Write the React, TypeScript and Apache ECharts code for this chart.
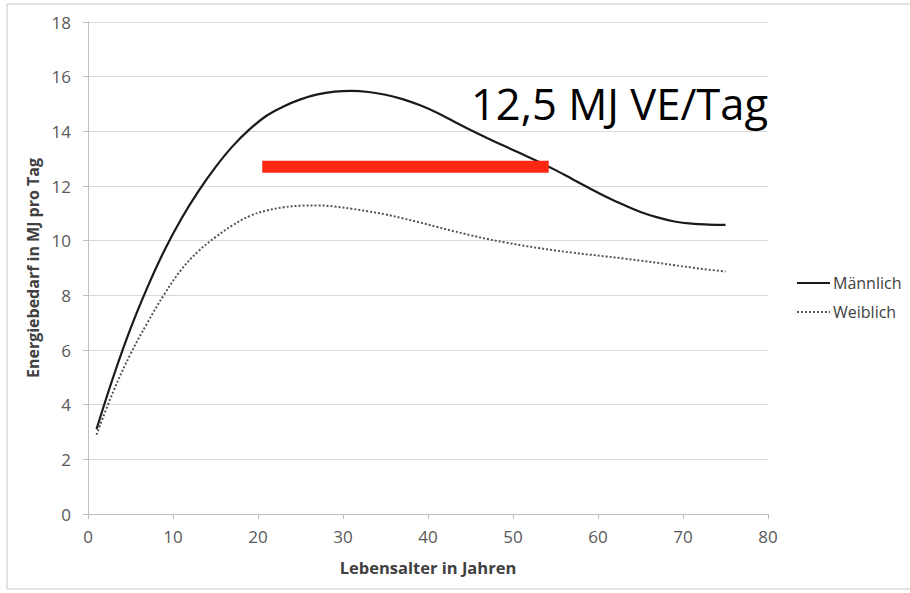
import React, { useEffect, useRef } from "react";
import * as echarts from "echarts";

const ages = [1, 3, 5, 7, 9, 11, 13, 15, 17, 19, 21, 23, 25, 27, 29, 31, 33, 35, 37, 39, 41, 43, 45, 47, 49, 51, 53, 55, 57, 59, 61, 63, 65, 67, 69, 71, 73, 75];
const maennlich = [3.1, 5.04, 6.78, 8.3, 9.65, 10.81, 11.81, 12.69, 13.45, 14.07, 14.57, 14.91, 15.17, 15.35, 15.45, 15.48, 15.44, 15.34, 15.18, 14.96, 14.69, 14.37, 14.05, 13.75, 13.46, 13.18, 12.89, 12.58, 12.25, 11.92, 11.6, 11.31, 11.05, 10.85, 10.7, 10.62, 10.59, 10.58];
const weiblich = [2.9, 4.5, 5.85, 7.0, 8.05, 8.95, 9.62, 10.13, 10.56, 10.9, 11.1, 11.22, 11.28, 11.29, 11.25, 11.17, 11.07, 10.96, 10.82, 10.67, 10.51, 10.35, 10.2, 10.06, 9.94, 9.83, 9.73, 9.64, 9.56, 9.49, 9.42, 9.35, 9.27, 9.19, 9.1, 9.02, 8.94, 8.87];

const refLineX = [20.5, 54.2];
const refLineY = 12.7;
const refLabel = "12,5 MJ VE/Tag";

const xTicks = { min: 0, max: 80, interval: 10 };
const yTicks = { min: 0, max: 18, interval: 2 };

const FONT = "'Open Sans', sans-serif";

export default function App() {
  const ref = useRef<HTMLDivElement>(null);
  useEffect(() => {
    if (!ref.current) return;
    const chart = echarts.init(ref.current, null, { renderer: "svg" });
    chart.setOption({
      animation: false,
      backgroundColor: "#ffffff",
      textStyle: { fontFamily: FONT },
      grid: { left: 88, right: 142, top: 22, bottom: 79 },
      legend: {
        orient: "vertical",
        left: 796,
        top: 275,
        padding: 0,
        itemWidth: 33,
        itemHeight: 14,
        itemGap: 13,
        itemStyle: { opacity: 0 },
        textStyle: { fontFamily: FONT, fontSize: 16, color: "#404040", padding: [0, 0, 0, -2] },
        data: ["Männlich", "Weiblich"],
      },
      xAxis: {
        type: "value",
        min: xTicks.min,
        max: xTicks.max,
        interval: xTicks.interval,
        name: "Lebensalter in Jahren",
        nameLocation: "middle",
        nameGap: 45,
        nameTextStyle: { fontFamily: FONT, fontSize: 16.5, fontWeight: "bold", color: "#404040" },
        axisLine: { lineStyle: { color: "#bfbfbf", width: 1 } },
        axisTick: { show: true, length: 5, lineStyle: { color: "#bfbfbf" } },
        axisLabel: { fontFamily: FONT, fontSize: 17, color: "#595959", margin: 14 },
        splitLine: { show: false },
      },
      yAxis: {
        type: "value",
        min: yTicks.min,
        max: yTicks.max,
        interval: yTicks.interval,
        name: "Energiebedarf in MJ pro Tag",
        nameLocation: "middle",
        nameGap: 46,
        nameTextStyle: { fontFamily: FONT, fontSize: 16, fontWeight: "bold", color: "#404040" },
        axisLine: { show: true, lineStyle: { color: "#bfbfbf", width: 1 } },
        axisTick: { show: true, length: 5, lineStyle: { color: "#bfbfbf" } },
        axisLabel: { fontFamily: FONT, fontSize: 17, color: "#595959", margin: 17 },
        splitLine: { show: true, lineStyle: { color: "#d9d9d9", width: 1 } },
      },
      series: [
        {
          name: "Männlich",
          type: "line",
          smooth: 0.4,
          symbol: "none",
          data: ages.map((a, i) => [a, maennlich[i]]),
          lineStyle: { color: "#1a1a1a", width: 2.2 },
          itemStyle: { color: "#1a1a1a" },
          z: 3,
        },
        {
          name: "Weiblich",
          type: "line",
          smooth: 0.4,
          symbol: "none",
          data: ages.map((a, i) => [a, weiblich[i]]),
          lineStyle: { color: "#555555", width: 2, type: [2, 2] },
          itemStyle: { color: "#555555" },
          z: 2,
        },
        {
          name: "ref",
          type: "line",
          symbol: "none",
          silent: true,
          data: refLineX.map((x) => [x, refLineY]),
          lineStyle: { color: "#fe2712", width: 12, cap: "butt" },
          z: 4,
        },
      ],
      graphic: [
        {
          type: "rect",
          shape: { x: 7, y: 4, width: 920, height: 585 },
          style: { fill: "none", stroke: "#c8c8c8", lineWidth: 1 },
          silent: true,
          z: -10,
        },
        {
          type: "text",
          x: 471,
          y: 103,
          style: {
            text: refLabel,
            fontFamily: FONT,
            fontSize: 43.5,
            fill: "#000000",
            verticalAlign: "middle",
            align: "left",
          },
          z: 10,
        },
      ],
    });
    return () => chart.dispose();
  }, []);
  return <div ref={ref} style={{ position: "fixed", left: 0, top: 0, width: 910, height: 593 }} />;
}
